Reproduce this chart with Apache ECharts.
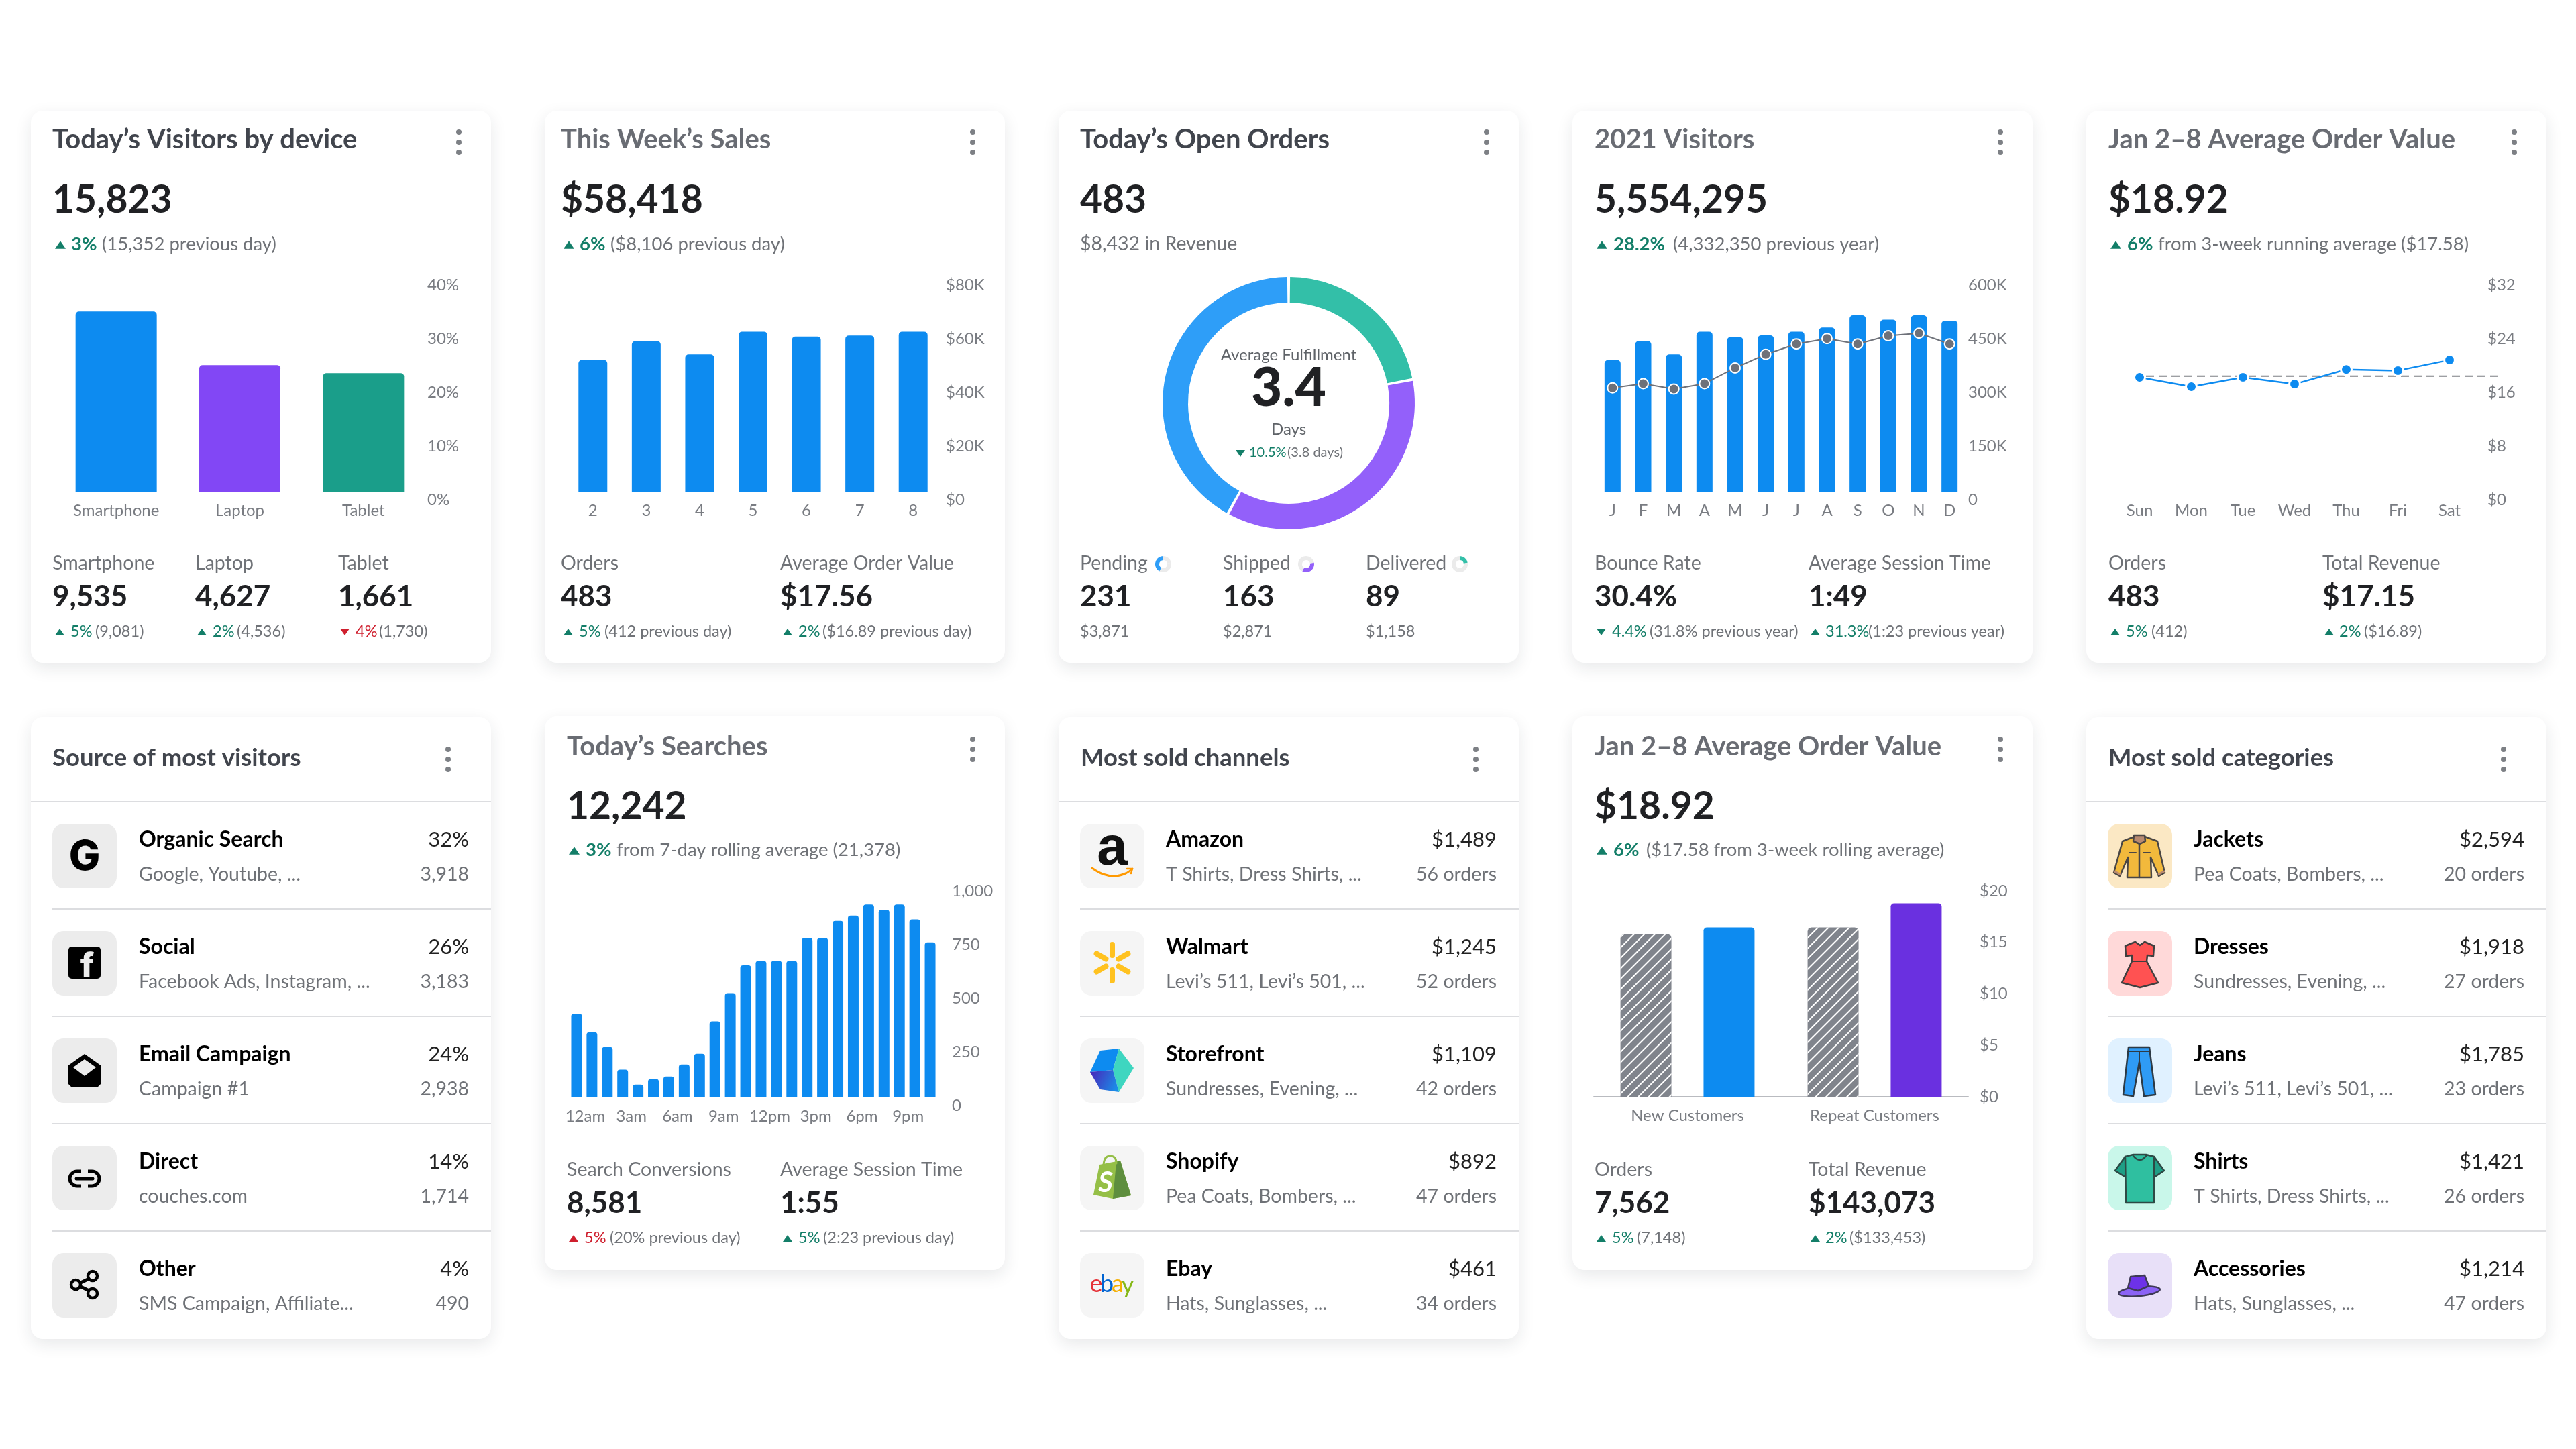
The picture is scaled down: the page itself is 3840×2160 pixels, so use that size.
<!DOCTYPE html>
<html>
<head>
<meta charset="utf-8">
<title>Dashboard</title>
<script src="https://cdn.jsdelivr.net/npm/echarts@6/dist/echarts.min.js"></script>
<style>
  html, body { margin: 0; background: #fff; }
  #main { width: 3840px; height: 2160px; }
</style>
</head>
<body>
<div id="main"></div>
<script>
// chart values
const deviceNames = ["Smartphone", "Laptop", "Tablet"];
const deviceShare = [33.6, 23.6, 22.1];

const salesDays = ["2", "3", "4", "5", "6", "7", "8"];
const salesValues = [49100, 56100, 51200, 59600, 57800, 58200, 59600];

const fulfilmentNames = ["Delivered", "Shipped", "Pending"];
const fulfilmentShare = [22, 36, 42];

const monthLabels = ["J", "F", "M", "A", "M", "J", "J", "A", "S", "O", "N", "D"];
const visitorBars = [368000, 421000, 384000, 447000, 432000, 437000, 447000, 459000, 493000, 481000, 493000, 478000];
const visitorLine = [290000, 302000, 287000, 302000, 346000, 384000, 413000, 428000, 413000, 436000, 443000, 413000];

const weekDays = ["Sun", "Mon", "Tue", "Wed", "Thu", "Fri", "Sat"];
const orderValues = [17.05, 15.65, 17.05, 16.04, 18.23, 18.06, 19.64];
const orderAverage = [[0, 17.22], [1, 17.22]];

const hourLabels = ["12am", "1am", "2am", "3am", "4am", "5am", "6am", "7am", "8am", "9am", "10am", "11am",
  "12pm", "1pm", "2pm", "3pm", "4pm", "5pm", "6pm", "7pm", "8pm", "9pm", "10pm", "11pm"];
const searchValues = [391, 304, 235, 130, 60, 86, 98, 154, 204, 355, 486, 616,
  636, 636, 636, 743, 743, 823, 848, 899, 874, 899, 830, 723];

const customerGroups = ["New Customers", "Repeat Customers"];
const customerPrior = [15.8, 16.45];
const customerCurrent = [16.45, 18.8];

// list cards
const sourceNames = ["Organic Search", "Social", "Email Campaign", "Direct", "Other"];
const sourceNotes = ["Google, Youtube, ...", "Facebook Ads, Instagram, ...", "Campaign #1", "couches.com", "SMS Campaign, Affiliate..."];
const sourcePercents = ["32%", "26%", "24%", "14%", "4%"];
const sourceCounts = ["3,918", "3,183", "2,938", "1,714", "490"];

const channelNames = ["Amazon", "Walmart", "Storefront", "Shopify", "Ebay"];
const channelNotes = ["T Shirts, Dress Shirts, ...", "Levi’s 511, Levi’s 501, ...", "Sundresses, Evening, ...", "Pea Coats, Bombers, ...", "Hats, Sunglasses, ..."];
const channelRevenue = ["$1,489", "$1,245", "$1,109", "$892", "$461"];
const channelOrders = ["56 orders", "52 orders", "42 orders", "47 orders", "34 orders"];

const categoryNames = ["Jackets", "Dresses", "Jeans", "Shirts", "Accessories"];
const categoryNotes = ["Pea Coats, Bombers, ...", "Sundresses, Evening, ...", "Levi’s 511, Levi’s 501, ...", "T Shirts, Dress Shirts, ...", "Hats, Sunglasses, ..."];
const categoryRevenue = ["$2,594", "$1,918", "$1,785", "$1,421", "$1,214"];
const categoryOrders = ["20 orders", "27 orders", "23 orders", "26 orders", "47 orders"];

const FONT = "Lato";
const BLUE = "#0d8bf0";
const GREEN = "#137e68";
const RED = "#cf1f2e";
const GRAY = "#6f7277";
const AXIS_GRAY = "#797c82";
const INK = "#202124";
const TITLE_DARK = "#41454d";
const TITLE_LIGHT = "#696c73";

const gfx = [];
const grids = [], xAxes = [], yAxes = [], series = [];

const text = (x, y, str, size, color, weight, align) => ({
  type: "text",
  z: 5,
  style: {
    x, y, text: str, fill: color,
    font: `${weight || "normal"} ${size}px ${FONT}`,
    align: align || "left", verticalAlign: "middle",
    textAlign: align || "left", textVerticalAlign: "middle",
  },
});

const addText = (...args) => gfx.push(text(...args));

const addCard = (x, y, h) => {
  gfx.push({
    type: "rect", z: 1,
    shape: { x, y, width: 686, height: h, r: 18 },
    style: { fill: "#fff", shadowBlur: 24, shadowOffsetY: 8, shadowColor: "rgba(30,35,45,0.10)" },
  });
};

const addKebab = (x, y) => {
  [-15, 0, 15].forEach((d) => {
    gfx.push({ type: "circle", z: 5, shape: { cx: x, cy: y + d, r: 4 }, style: { fill: "#7d8085" } });
  });
};

const addTriangle = (x, y, up, w, color) => {
  const h = w * 0.72;
  const pts = up
    ? [[x, y + h / 2], [x + w, y + h / 2], [x + w / 2, y - h / 2]]
    : [[x, y - h / 2], [x + w, y - h / 2], [x + w / 2, y + h / 2]];
  gfx.push({ type: "polygon", z: 5, shape: { points: pts }, style: { fill: color } });
};

// triangle + coloured percent + gray remainder
const addDelta = (y, triX, up, good, pctX, pct, restX, rest, size, strong) => {
  const color = good ? GREEN : RED;
  addTriangle(triX, y + 1, up, size > 25 ? 16 : 14, color);
  addText(pctX, y, pct, size, color, strong ? "bold" : "normal");
  addText(restX, y, rest, size, GRAY);
};

const addHeader = (cardX, textX, ys, title, titleColor, big) => {
  addText(textX, ys[0], title, 40, titleColor, "bold");
  addText(textX, ys[1] + 3, big, 57, INK, "bold");
  addKebab(cardX + 638, ys[0] + 4);
};

const addStat = (x, ys, label, value) => {
  addText(x, ys[0], label, 28.5, GRAY);
  addText(x, ys[1], value, 44, INK, "bold");
};

// one grid with a right-hand value axis
const addAxes = (cfg) => {
  grids.push({ left: cfg.left, width: cfg.right - cfg.left, top: cfg.top, height: cfg.bottom - cfg.top });
  const idx = grids.length - 1;
  xAxes.push({
    type: "category", gridIndex: idx, data: cfg.cats, boundaryGap: true, z: 3,
    axisLine: cfg.line ? { show: true, lineStyle: { color: "#b9bbc0", width: 2 } } : { show: false },
    axisTick: { show: false },
    splitLine: { show: false },
    axisLabel: Object.assign({
      color: AXIS_GRAY, fontFamily: FONT, fontSize: 24, margin: cfg.xMargin || 16, interval: 0, hideOverlap: false,
    }, cfg.xLabel || {}),
  });
  yAxes.push({
    type: "value", gridIndex: idx, position: "right", min: 0, max: cfg.max, interval: cfg.interval, z: 3,
    axisLine: { show: false }, axisTick: { show: false }, splitLine: { show: false },
    axisLabel: {
      color: AXIS_GRAY, fontFamily: FONT, fontSize: 24, align: "left",
      margin: cfg.yMargin, verticalAlign: cfg.yAlign || "top", formatter: cfg.fmt,
    },
  });
  return idx;
};

const barSeries = (idx, data, width, extra) => Object.assign({
  type: "bar", xAxisIndex: idx, yAxisIndex: idx, data, barWidth: width, z: 4,
  itemStyle: { color: BLUE, borderRadius: [5, 5, 0, 0] },
}, extra || {});

const ROW1 = [208, 296, 364];
const ROW1F = [840, 890, 941];
const ROW2 = [1113, 1200, 1267];
const ROW2F = [1744, 1794, 1845];

/* ---------- Today's Visitors by device ---------- */
addCard(46, 165, 823);
addHeader(46, 78, ROW1, "Today’s Visitors by device", TITLE_DARK, "15,823");
addDelta(ROW1[2], 82, true, true, 106, "3%", 152, "(15,352 previous day)", 27.5, true);
let g = addAxes({ left: 81, right: 634, top: 413, bottom: 733, cats: deviceNames, max: 40, interval: 10, yMargin: 3, fmt: "{value}%" });
const deviceColors = [BLUE, "#8247f5", "#1a9e8a"];
series.push(barSeries(g, deviceShare.map((v, i) => ({ value: v, itemStyle: { color: deviceColors[i] } })), 121));
addStat(78, ROW1F, "Smartphone", "9,535");
addStat(291, ROW1F, "Laptop", "4,627");
addStat(504, ROW1F, "Tablet", "1,661");
addDelta(ROW1F[2], 82, true, true, 105, "5%", 142, "(9,081)", 23.5);
addDelta(ROW1F[2], 294, true, true, 317, "2%", 353, "(4,536)", 23.5);
addDelta(ROW1F[2], 507, false, false, 530, "4%", 565, "(1,730)", 23.5);

/* ---------- This Week's Sales ---------- */
addCard(812, 165, 823);
addHeader(812, 836, ROW1, "This Week’s Sales", TITLE_LIGHT, "$58,418");
addDelta(ROW1[2], 840, true, true, 864, "6%", 910, "($8,106 previous day)", 27.5, true);
g = addAxes({ left: 844, right: 1401, top: 413, bottom: 733, cats: salesDays, max: 80000, interval: 20000, yMargin: 9, fmt: (v) => "$" + v / 1000 + (v ? "K" : "") });
series.push(barSeries(g, salesValues, 43));
addStat(836, ROW1F, "Orders", "483");
addStat(1163, ROW1F, "Average Order Value", "$17.56");
addDelta(ROW1F[2], 840, true, true, 863, "5%", 901, "(412 previous day)", 23.5);
addDelta(ROW1F[2], 1167, true, true, 1190, "2%", 1226, "($16.89 previous day)", 23.5);

/* ---------- Today's Open Orders ---------- */
addCard(1578, 165, 823);
addHeader(1578, 1610, ROW1, "Today’s Open Orders", TITLE_DARK, "483");
addText(1610, ROW1[2], "$8,432 in Revenue", 28.5, GRAY);
const donutColors = ["#33bfa8", "#9360fa", "#2e9ef8"];
series.push({
  type: "pie", center: [1921, 601], radius: [150, 188], startAngle: 90, padAngle: 1.3, z: 4,
  label: { show: false }, labelLine: { show: false }, silent: true,
  data: fulfilmentNames.map((n, i) => ({ name: n, value: fulfilmentShare[i], itemStyle: { color: donutColors[i] } })),
});
addText(1921, 529, "Average Fulfillment", 24, "#5f6368", "normal", "center");
addText(1921, 579, "3.4", 80, INK, "900", "center");
addText(1921, 640, "Days", 24, "#5f6368", "normal", "center");
addDelta(675, 1842, false, true, 1862, "10.5%", 1919, "(3.8 days)", 20);
const miniX = [1734, 1947, 2176];
[2, 1, 0].forEach((k, col) => {
  series.push({
    type: "pie", center: [miniX[col], 841], radius: [6, 12], startAngle: 90, z: 4,
    label: { show: false }, labelLine: { show: false }, silent: true,
    data: fulfilmentShare.map((v, i) => ({ value: v, itemStyle: { color: i === k ? donutColors[i] : "#ebebeb" } })),
  });
});
addStat(1610, ROW1F, "Pending", "231");
addStat(1823, ROW1F, "Shipped", "163");
addStat(2036, ROW1F, "Delivered", "89");
addText(1610, ROW1F[2], "$3,871", 23.5, GRAY);
addText(1823, ROW1F[2], "$2,871", 23.5, GRAY);
addText(2036, ROW1F[2], "$1,158", 23.5, GRAY);

/* ---------- 2021 Visitors ---------- */
addCard(2344, 165, 823);
addHeader(2344, 2377, ROW1, "2021 Visitors", TITLE_LIGHT, "5,554,295");
addDelta(ROW1[2], 2380, true, true, 2405, "28.2%", 2494, "(4,332,350 previous year)", 27.5, true);
g = addAxes({ left: 2381, right: 2929, top: 413, bottom: 733, cats: monthLabels, max: 600000, interval: 150000, yMargin: 5, fmt: (v) => (v ? v / 1000 + "K" : "0") });
series.push(barSeries(g, visitorBars, 24));
series.push({
  type: "line", xAxisIndex: g, yAxisIndex: g, data: visitorLine, z: 5,
  symbol: "circle", symbolSize: 15,
  lineStyle: { color: "#6e7179", width: 2 },
  itemStyle: { color: "#6e7179", borderColor: "#fff", borderWidth: 2 },
});
addStat(2377, ROW1F, "Bounce Rate", "30.4%");
addStat(2696, ROW1F, "Average Session Time", "1:49");
addDelta(ROW1F[2], 2380, false, true, 2403, "4.4%", 2459, "(31.8% previous year)", 23.5);
addDelta(ROW1F[2], 2699, true, true, 2721, "31.3%", 2785, "(1:23 previous year)", 23.5);

/* ---------- Jan 2-8 Average Order Value (line) ---------- */
addCard(3110, 165, 823);
addHeader(3110, 3143, ROW1, "Jan 2–8 Average Order Value", TITLE_LIGHT, "$18.92");
addDelta(ROW1[2], 3146, true, true, 3171, "6%", 3217, "from 3-week running average ($17.58)", 27.5, true);
g = addAxes({ left: 3151, right: 3690, top: 413, bottom: 733, cats: weekDays, max: 32, interval: 8, yMargin: 18, fmt: "${value}" });
series.push({
  type: "line", xAxisIndex: g, yAxisIndex: g, data: orderValues, z: 5,
  symbol: "circle", symbolSize: 16,
  lineStyle: { color: BLUE, width: 2.5 },
  itemStyle: { color: BLUE, borderColor: "#fff", borderWidth: 3 },
});
// the dashed average runs past the last day, so it sits on its own scale
grids.push({ left: 3199, width: 524, top: 413, height: 320 });
xAxes.push({ type: "value", gridIndex: grids.length - 1, min: 0, max: 1, show: false });
yAxes.push({ type: "value", gridIndex: grids.length - 1, min: 0, max: 32, show: false });
series.push({
  type: "line", xAxisIndex: grids.length - 1, yAxisIndex: grids.length - 1, data: orderAverage, z: 4,
  symbol: "none", lineStyle: { color: "#7d8085", width: 2, type: [12, 7] },
});
addStat(3143, ROW1F, "Orders", "483");
addStat(3462, ROW1F, "Total Revenue", "$17.15");
addDelta(ROW1F[2], 3146, true, true, 3169, "5%", 3207, "(412)", 23.5);
addDelta(ROW1F[2], 3465, true, true, 3487, "2%", 3524, "($16.89)", 23.5);

/* ---------- Today's Searches ---------- */
addCard(812, 1068, 825);
addHeader(812, 845, ROW2, "Today’s Searches", TITLE_LIGHT, "12,242");
addDelta(ROW2[2], 848, true, true, 873, "3%", 919, "from 7-day rolling average (21,378)", 27.5, true);
g = addAxes({
  left: 848, right: 1398, top: 1316, bottom: 1636, cats: hourLabels, max: 1000, interval: 250, yMargin: 21,
  fmt: (v) => v.toLocaleString("en-US"), xLabel: { interval: 2, padding: [0, 0, 0, 26] },
});
series.push(barSeries(g, searchValues, 16, { itemStyle: { color: BLUE, borderRadius: [4, 4, 0, 0] } }));
addStat(845, ROW2F, "Search Conversions", "8,581");
addStat(1163, ROW2F, "Average Session Time", "1:55");
addDelta(ROW2F[2], 848, true, false, 871, "5%", 909, "(20% previous day)", 23.5);
addDelta(ROW2F[2], 1167, true, true, 1190, "5%", 1227, "(2:23 previous day)", 23.5);

/* ---------- Jan 2-8 Average Order Value (bars) ---------- */
addCard(2344, 1068, 825);
addHeader(2344, 2377, ROW2, "Jan 2–8 Average Order Value", TITLE_LIGHT, "$18.92");
addDelta(ROW2[2], 2380, true, true, 2405, "6%", 2454, "($17.58 from 3-week rolling average)", 27.5, true);
g = addAxes({
  left: 2376, right: 2934, top: 1328, bottom: 1635, cats: customerGroups, max: 20, interval: 5, yMargin: 17,
  fmt: "${value}", yAlign: "middle", line: true,
});
series.push(barSeries(g, customerPrior, 76, {
  barGap: "63%",
  itemStyle: {
    color: "#80848c", borderRadius: [6, 6, 0, 0],
    decal: { symbol: "rect", color: "#ffffff", dashArrayX: [1, 0], dashArrayY: [2, 9], rotation: -Math.PI / 4, symbolSize: 1 },
  },
}));
const currentColors = [BLUE, "#6a30e0"];
series.push(barSeries(g, customerCurrent.map((v, i) => ({ value: v, itemStyle: { color: currentColors[i] } })), 76));
addStat(2377, ROW2F, "Orders", "7,562");
addStat(2696, ROW2F, "Total Revenue", "$143,073");
addDelta(ROW2F[2], 2380, true, true, 2403, "5%", 2440, "(7,148)", 23.5);
addDelta(ROW2F[2], 2699, true, true, 2721, "2%", 2757, "($133,453)", 23.5);

/* ---------- icons, drawn in a 96 x 96 box ---------- */
const poly = (points, fill, stroke, lw) => ({
  type: "polygon", shape: { points },
  style: { fill, stroke: stroke || null, lineWidth: lw || 0, lineJoin: "round" },
});
const stroked = (points, stroke, lw, smooth) => ({
  type: "polyline", shape: { points, smooth: smooth || 0 },
  style: { fill: null, stroke, lineWidth: lw, lineCap: "round", lineJoin: "round" },
});
const glyph = (x, y, str, size, color, family, weight, style) => ({
  type: "text",
  style: {
    x, y, text: str, fill: color, font: `${style || "normal"} ${weight || "bold"} ${size}px ${family || FONT}`,
    align: "center", verticalAlign: "middle", textAlign: "center", textVerticalAlign: "middle",
  },
});
const BOX = "#ececec";
const sourceIcons = [
  [glyph(48, 50, "G", 62, "#000", "Inter", 800)],
  [{ type: "rect", shape: { x: 24, y: 23, width: 48, height: 48, r: 5 }, style: { fill: "#000" } },
    glyph(52, 53, "f", 50, BOX, "Inter", 800)],
  [poly([[24, 40], [48, 23], [72, 40], [72, 68], [68, 72], [28, 72], [24, 68]], "#000"),
    poly([[48, 31], [65, 43], [48, 56], [31, 43]], BOX)],
  [{ type: "rect", shape: { x: 26, y: 38, width: 44, height: 22, r: 11 }, style: { fill: null, stroke: "#000", lineWidth: 5 } },
    { type: "rect", shape: { x: 43, y: 32, width: 10, height: 34 }, style: { fill: BOX } },
    stroked([[36, 49], [60, 49]], "#000", 5)],
  [stroked([[36, 47], [59, 36]], "#000", 5), stroked([[36, 47], [59, 58]], "#000", 5),
    { type: "circle", shape: { cx: 35, cy: 47, r: 7 }, style: { fill: BOX, stroke: "#000", lineWidth: 4.5 } },
    { type: "circle", shape: { cx: 60, cy: 34, r: 7 }, style: { fill: BOX, stroke: "#000", lineWidth: 4.5 } },
    { type: "circle", shape: { cx: 60, cy: 60, r: 7 }, style: { fill: BOX, stroke: "#000", lineWidth: 4.5 } }],
];
const spokes = [90, 30, -30, -90, -150, 150].map((deg) => {
  const a = deg * Math.PI / 180;
  return stroked([[48 + 11 * Math.cos(a), 47 - 11 * Math.sin(a)], [48 + 27 * Math.cos(a), 47 - 27 * Math.sin(a)]], "#ffc220", 8);
});
const BOX2 = "#f5f5f5";
const channelIcons = [
  [glyph(48, 38, "a", 82, "#111", "Liberation Sans"),
    stroked([[18, 66], [34, 75], [52, 78], [68, 74], [78, 67]], "#ff9900", 3, 0.4),
    stroked([[70, 67], [78, 67], [76, 74]], "#ff9900", 2.5)],
  spokes,
  [poly([[30, 18], [58, 15], [49, 47], [15, 50]], "#0d8bf0"),
    poly([[58, 15], [80, 44], [58, 80], [49, 47]], "#3ed6c0"),
    { type: "polygon", shape: { points: [[15, 50], [49, 47], [58, 80], [30, 76]] },
      style: { fill: new echarts.graphic.LinearGradient(0, 0, 1, 0.6, [{ offset: 0, color: "#4a22b8" }, { offset: 1, color: "#1a8de8" }]) } }],
  [poly([[20, 73], [29, 28], [60, 22], [76, 74], [49, 79]], "#95bf47"),
    poly([[60, 22], [76, 74], [49, 79], [54, 24]], "#5e8e3e"),
    stroked([[35, 28], [38, 18], [45, 15], [52, 18], [54, 26]], "#95bf47", 3, 0.4),
    glyph(38, 55, "S", 42, "#fff", FONT, "bold", "italic")],
  [glyph(24, 46, "e", 36, "#e53238", FONT, "normal"), glyph(40, 46, "b", 36, "#0064d2", FONT, "normal"),
    glyph(56, 46, "a", 36, "#f5af02", FONT, "normal"), glyph(71, 48, "y", 36, "#86b817", FONT, "normal")],
];
const DARK = "#4a4644";
const categoryIcons = [
  [poly([[40, 19], [22, 26], [9, 73], [18, 78], [30, 50], [29, 80], [65, 80], [64, 50], [76, 78], [85, 73], [74, 26], [55, 19]], "#f2b93c", DARK, 2.5),
    poly([[39, 17], [55, 17], [56, 26], [48, 30], [38, 26]], "#b98a70", DARK, 2.5),
    stroked([[47, 30], [47, 80]], DARK, 2.5),
    stroked([[32, 43], [42, 43]], DARK, 2), stroked([[53, 43], [63, 43]], DARK, 2),
    stroked([[10, 71], [18, 75]], "#b98a70", 3), stroked([[76, 75], [84, 71]], "#b98a70", 3)],
  [poly([[41, 16], [48, 21], [55, 16], [69, 22], [68, 37], [59, 36], [58, 45], [75, 77], [48, 84], [21, 77], [36, 45], [36, 36], [27, 37], [26, 22]], "#ff5252", "#3f3f3f", 2.5),
    stroked([[36, 45], [58, 45]], "#3f3f3f", 2)],
  [poly([[31, 13], [62, 13], [71, 84], [54, 86], [47, 35], [38, 86], [23, 84]], "#2f9bf5", "#2d3a45", 2.5),
    stroked([[31, 19], [62, 19]], "#2d3a45", 2), stroked([[47, 19], [47, 35]], "#2d3a45", 2)],
  [poly([[26, 16], [11, 37], [27, 47]], "#1f9e85", "#2d4a45", 2.5), poly([[69, 16], [84, 37], [69, 47]], "#1f9e85", "#2d4a45", 2.5),
    poly([[26, 16], [38, 13], [57, 13], [69, 16], [69, 85], [27, 85]], "#2fbfa0", "#2d4a45", 2.5),
    stroked([[38, 15], [48, 21], [57, 15]], "#2d4a45", 2.5, 0.5)],
  [{ type: "ellipse", originX: 47, originY: 57, rotation: 0.1, shape: { cx: 47, cy: 57, rx: 31, ry: 7 }, style: { fill: "#8b63f5", stroke: "#3e3a55", lineWidth: 2.5 } },
    poly([[30, 52], [34, 35], [55, 33], [61, 49], [45, 56]], "#6d32e8", "#3e3a55", 2.5)],
];

const addListCard = (cardX, textX, boxX, rowTextX, rightX, kebabX, title, names, notes, tops, bottoms, boxColors, icons) => {
  addCard(cardX, 1069, 927);
  addText(textX, 1130, title, 36.5, TITLE_DARK, "bold");
  addKebab(kebabX, 1132);
  gfx.push({ type: "rect", z: 3, shape: { x: cardX, y: 1194, width: 686, height: 2 }, style: { fill: "#dcdde0" } });
  names.forEach((name, i) => {
    const top = 1228 + i * 160;
    if (i > 0) {
      gfx.push({ type: "rect", z: 3, shape: { x: boxX, y: top - 34, width: cardX + 686 - boxX, height: 2 }, style: { fill: "#dcdde0" } });
    }
    gfx.push({ type: "rect", z: 3, shape: { x: boxX, y: top, width: 96, height: 96, r: 17 }, style: { fill: boxColors[i] } });
    gfx.push({ type: "group", z: 4, x: boxX, y: top, children: icons[i].map((el) => Object.assign({ z: 4 }, el)) });
    addText(rowTextX, top + 24, name, 32, "#000", "bold");
    addText(rowTextX, top + 76, notes[i], 28.5, GRAY);
    addText(rightX, top + 24, tops[i], 31, "#222", "normal", "right");
    addText(rightX, top + 76, bottoms[i], 28.5, GRAY, "normal", "right");
  });
};

addListCard(46, 78, 78, 207, 699, 668, "Source of most visitors", sourceNames, sourceNotes, sourcePercents, sourceCounts,
  [BOX, BOX, BOX, BOX, BOX], sourceIcons);
addListCard(1578, 1611, 1610, 1738, 2231, 2200, "Most sold channels", channelNames, channelNotes, channelRevenue, channelOrders,
  [BOX2, BOX2, BOX2, BOX2, BOX2], channelIcons);
addListCard(3110, 3143, 3142, 3270, 3763, 3732, "Most sold categories", categoryNames, categoryNotes, categoryRevenue, categoryOrders,
  ["#fbe8c4", "#ffd9d9", "#e0f1ff", "#c9f7ea", "#e8e0f8"], categoryIcons);

const chart = echarts.init(document.getElementById("main"));
chart.setOption({
  animation: false,
  backgroundColor: "#fff",
  textStyle: { fontFamily: FONT },
  tooltip: { show: false },
  legend: { show: false },
  graphic: { elements: gfx },
  grid: grids,
  xAxis: xAxes,
  yAxis: yAxes,
  series: series,
});
</script>
</body>
</html>
